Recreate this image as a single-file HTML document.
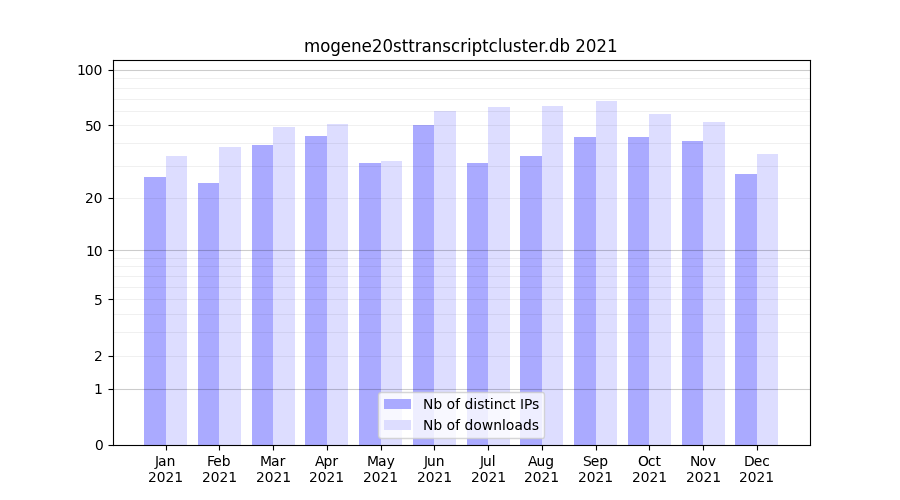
<!DOCTYPE html>
<html lang="en"><head><meta charset="utf-8"><title>mogene20sttranscriptcluster.db 2021</title>
<style>html,body{margin:0;padding:0;background:#fff;overflow:hidden}svg{display:block}text{font-family:"Liberation Sans",sans-serif;fill:#000;fill-opacity:0}</style></head><body>
<svg width="900" height="500" viewBox="0 0 900 500">
<rect width="900" height="500" fill="#fff"/>
<defs><path id="g10_4a" d="M1.375 -10L2.688 -10L2.688 -0.5L2.516 1.078L2 2.156L1.121 2.789L-0.172 3L-0.688 3L-0.688 1.906L-0.266 1.906L0.504 1.777L1 1.391L1.281 0.672L1.375 -0.453L1.375 -10Z"/><path id="g10_61" d="M4.797 -3.859L3.551 -3.777L2.75 -3.531L2.328 -3.102L2.188 -2.438L2.293 -1.879L2.609 -1.453L3.117 -1.184L3.766 -1.094L4.68 -1.266L5.391 -1.781L5.848 -2.582L6 -3.609L6 -3.859L4.797 -3.859ZM7.312 -4.453L7.312 0L6 0L6 -1.375L5.523 -0.762L4.938 -0.328L4.238 -0.082L3.391 0L2.352 -0.16L1.547 -0.641L1.043 -1.406L0.875 -2.391L1.086 -3.512L1.719 -4.312L2.785 -4.793L4.266 -4.953L6 -4.953L6 -5.094L5.859 -5.855L5.438 -6.422L4.773 -6.785L3.875 -6.906L2.625 -6.75L1.469 -6.281L1.469 -7.453L2.781 -7.859L4.047 -8L5.48 -7.777L6.5 -7.109L7.109 -6.008L7.312 -4.453Z"/><path id="g10_6e" d="M7.625 -4.719L7.625 0L6.312 0L6.312 -4.688L6.211 -5.668L5.906 -6.359L5.395 -6.77L4.672 -6.906L3.801 -6.742L3.125 -6.25L2.703 -5.465L2.562 -4.422L2.562 0L1.25 0L1.25 -8L2.562 -8L2.562 -6.625L3.051 -7.227L3.609 -7.656L4.262 -7.914L5 -8L6.137 -7.789L6.953 -7.156L7.457 -6.133L7.625 -4.719Z"/><path id="g10_32" d="M2.656 -1.094L7.375 -1.094L7.375 0L1 0L1 -1.094L1.922 -2.012L3.125 -3.203L4.219 -4.305L4.812 -4.922L5.379 -5.586L5.734 -6.141L5.934 -6.645L6 -7.125L5.859 -7.836L5.438 -8.406L4.785 -8.781L3.953 -8.906L2.594 -8.688L1.062 -8.031L1.062 -9.359L2.594 -9.844L3.906 -10L5.309 -9.809L6.391 -9.234L7.082 -8.34L7.312 -7.188L7.078 -6.031L6.762 -5.441L6.25 -4.766L5.895 -4.395L5.172 -3.656L4.098 -2.555L2.656 -1.094Z"/><path id="g10_30" d="M4.344 -8.906L3.398 -8.66L2.719 -7.922L2.32 -6.707L2.188 -5L2.32 -3.289L2.719 -2.062L3.398 -1.336L4.344 -1.094L5.285 -1.336L5.953 -2.062L6.363 -3.289L6.5 -5L6.363 -6.707L5.953 -7.922L5.285 -8.66L4.344 -8.906ZM4.344 -10L5.138 -9.92L5.832 -9.68L6.427 -9.279L6.922 -8.719L7.312 -8.006L7.59 -7.148L7.757 -6.146L7.812 -5L7.757 -3.854L7.59 -2.852L7.312 -1.994L6.922 -1.281L6.427 -0.721L5.832 -0.32L5.138 -0.08L4.344 0L3.55 -0.08L2.855 -0.32L2.261 -0.721L1.766 -1.281L1.376 -1.994L1.098 -2.852L0.931 -3.854L0.875 -5L0.931 -6.146L1.098 -7.148L1.376 -8.006L1.766 -8.719L2.261 -9.279L2.855 -9.68L3.55 -9.92L4.344 -10Z"/><path id="g10_31" d="M1.75 -1.188L4 -1.188L4 -8.781L1.562 -8.297L1.562 -9.516L3.984 -10L5.312 -10L5.312 -1.188L7.625 -1.188L7.625 0L1.75 0L1.75 -1.188Z"/><path id="g10_46" d="M1.375 -10L7.141 -10L7.141 -8.906L2.688 -8.906L2.688 -5.953L6.703 -5.953L6.703 -4.859L2.688 -4.859L2.688 0L1.375 0L1.375 -10Z"/><path id="g10_65" d="M7.812 -4.453L7.812 -3.859L2.062 -3.859L2.238 -2.664L2.766 -1.797L3.609 -1.27L4.734 -1.094L6.141 -1.281L7.516 -1.828L7.516 -0.609L6.125 -0.156L4.703 0L3.837 -0.066L3.066 -0.266L2.392 -0.598L1.812 -1.062L1.348 -1.641L1.016 -2.312L0.816 -3.078L0.75 -3.938L1 -5.617L1.75 -6.906L2.302 -7.385L2.941 -7.727L3.669 -7.932L4.484 -8L5.867 -7.762L6.922 -7.047L7.59 -5.922L7.812 -4.453ZM6.5 -4.953L6.359 -5.754L5.938 -6.375L5.285 -6.773L4.453 -6.906L3.52 -6.777L2.781 -6.391L2.289 -5.781L2.062 -4.953L6.5 -4.953Z"/><path id="g10_62" d="M6.75 -4L6.609 -5.211L6.188 -6.125L5.531 -6.711L4.656 -6.906L3.789 -6.711L3.125 -6.125L2.703 -5.211L2.562 -4L2.703 -2.785L3.125 -1.859L3.789 -1.285L4.656 -1.094L5.531 -1.285L6.188 -1.859L6.609 -2.785L6.75 -4ZM2.562 -6.625L3.004 -7.234L3.547 -7.656L4.199 -7.914L4.969 -8L5.624 -7.931L6.215 -7.723L6.741 -7.376L7.203 -6.891L7.848 -5.621L8.062 -4L7.848 -2.375L7.203 -1.094L6.741 -0.615L6.215 -0.273L5.624 -0.068L4.969 0L4.199 -0.082L3.547 -0.328L3.004 -0.762L2.562 -1.375L2.562 0L1.25 0L1.25 -11L2.562 -11L2.562 -6.625Z"/><path id="g10_4d" d="M1.375 -10L3.406 -10L6 -3.188L8.609 -10L10.625 -10L10.625 0L9.312 0L9.312 -8.781L6.688 -1.922L5.312 -1.922L2.688 -8.781L2.688 0L1.375 0L1.375 -10Z"/><path id="g10_72" d="M5.75 -6.656L5.297 -6.844L4.75 -6.906L3.82 -6.727L3.125 -6.188L2.703 -5.316L2.562 -4.141L2.562 0L1.25 0L1.25 -8L2.562 -8L2.562 -6.641L3.012 -7.238L3.578 -7.656L4.285 -7.914L5.125 -8L5.406 -8.016L5.75 -8.109L5.75 -6.656Z"/><path id="g10_41" d="M4.75 -9.156L2.891 -3.984L6.609 -3.984L4.75 -9.156ZM3.969 -10L5.516 -10L9.375 0L7.953 0L7.031 -2.828L2.469 -2.828L1.547 0L0.109 0L3.969 -10Z"/><path id="g10_70" d="M2.562 -1.375L2.562 3L1.25 3L1.25 -8L2.562 -8L2.562 -6.625L3.004 -7.234L3.547 -7.656L4.199 -7.914L4.969 -8L5.624 -7.931L6.215 -7.723L6.741 -7.376L7.203 -6.891L7.848 -5.621L8.062 -4L7.848 -2.375L7.203 -1.094L6.741 -0.615L6.215 -0.273L5.624 -0.068L4.969 0L4.199 -0.082L3.547 -0.328L3.004 -0.762L2.562 -1.375ZM6.75 -4L6.609 -5.211L6.188 -6.125L5.531 -6.711L4.656 -6.906L3.789 -6.711L3.125 -6.125L2.703 -5.211L2.562 -4L2.703 -2.785L3.125 -1.859L3.789 -1.285L4.656 -1.094L5.531 -1.285L6.188 -1.859L6.609 -2.785L6.75 -4Z"/><path id="g10_79" d="M4.5 0.703L4.236 1.358L3.977 1.887L3.721 2.288L3.469 2.562L2.883 2.891L2.125 3L1.125 3L1.125 1.922L1.859 1.922L2.316 1.855L2.656 1.656L2.953 1.23L3.281 0.453L3.516 -0.141L0.438 -8L1.766 -8L4.141 -1.75L6.5 -8L7.828 -8L4.5 0.703Z"/><path id="g10_75" d="M1.125 -3.281L1.125 -8L2.438 -8L2.438 -3.312L2.539 -2.34L2.844 -1.641L3.352 -1.23L4.062 -1.094L4.941 -1.258L5.609 -1.75L6.043 -2.539L6.188 -3.562L6.188 -8L7.5 -8L7.5 0L6.188 0L6.188 -1.375L5.699 -0.762L5.141 -0.328L4.5 -0.082L3.766 0L2.625 -0.207L1.797 -0.828L1.293 -1.863L1.125 -3.281ZM4.312 -8L4.312 -8Z"/><path id="g10_6c" d="M1.25 -11L2.562 -11L2.562 0L1.25 0L1.25 -11Z"/><path id="g10_67" d="M6.25 -4L6.113 -5.23L5.703 -6.141L5.043 -6.715L4.156 -6.906L3.277 -6.715L2.609 -6.141L2.199 -5.23L2.062 -4L2.199 -2.766L2.609 -1.844L3.277 -1.281L4.156 -1.094L5.043 -1.281L5.703 -1.844L6.113 -2.766L6.25 -4ZM7.562 -1.016L7.509 -0.065L7.348 0.754L7.079 1.442L6.703 2L5.613 2.75L4.062 3L2.812 2.891L1.688 2.578L1.688 1.312L2.75 1.766L3.828 1.906L4.891 1.742L5.641 1.25L6.098 0.422L6.25 -0.75L6.25 -1.391L5.809 -0.785L5.266 -0.344L4.609 -0.086L3.828 0L3.173 -0.068L2.582 -0.273L2.056 -0.615L1.594 -1.094L0.961 -2.367L0.75 -4L0.961 -5.633L1.594 -6.906L2.056 -7.385L2.582 -7.727L3.173 -7.932L3.828 -8L4.609 -7.914L5.266 -7.656L5.809 -7.223L6.25 -6.609L6.25 -8L7.562 -8L7.562 -1.016Z"/><path id="g10_53" d="M7.422 -9.5L7.422 -8.203L5.922 -8.734L4.562 -8.906L3.551 -8.801L2.797 -8.484L2.34 -7.992L2.188 -7.328L2.289 -6.766L2.594 -6.359L3.184 -6.066L4.141 -5.844L4.984 -5.672L6.328 -5.297L7.266 -4.703L7.816 -3.887L8 -2.844L7.754 -1.609L7.016 -0.719L5.801 -0.18L4.125 0L2.594 -0.156L0.922 -0.641L0.922 -1.984L2.562 -1.312L4.156 -1.094L5.207 -1.203L5.984 -1.531L6.465 -2.062L6.625 -2.781L6.508 -3.41L6.156 -3.891L5.555 -4.242L4.656 -4.484L3.812 -4.641L2.477 -5.008L1.562 -5.547L1.047 -6.289L0.875 -7.266L1.113 -8.406L1.828 -9.266L2.957 -9.816L4.438 -10L5.891 -9.875L7.422 -9.5Z"/><path id="g10_4f" d="M5.438 -8.906L4.747 -8.841L4.129 -8.645L3.583 -8.317L3.109 -7.859L2.465 -6.621L2.25 -5L2.465 -3.387L3.109 -2.141L3.583 -1.683L4.129 -1.355L4.747 -1.159L5.438 -1.094L6.134 -1.159L6.754 -1.355L7.298 -1.683L7.766 -2.141L8.41 -3.387L8.625 -5L8.41 -6.621L7.766 -7.859L7.298 -8.317L6.754 -8.645L6.134 -8.841L5.438 -8.906ZM5.438 -10L6.453 -9.915L7.359 -9.66L8.156 -9.235L8.844 -8.641L9.404 -7.903L9.805 -7.051L10.045 -6.083L10.125 -5L10.045 -3.917L9.805 -2.949L9.404 -2.097L8.844 -1.359L8.156 -0.765L7.359 -0.34L6.453 -0.085L5.438 0L4.428 -0.084L3.523 -0.336L2.725 -0.756L2.031 -1.344L1.471 -2.082L1.07 -2.938L0.83 -3.91L0.75 -5L0.83 -6.083L1.07 -7.051L1.471 -7.903L2.031 -8.641L2.725 -9.235L3.523 -9.66L4.428 -9.915L5.438 -10Z"/><path id="g10_63" d="M6.75 -7.516L6.75 -6.328L5.688 -6.75L4.625 -6.906L3.543 -6.715L2.734 -6.141L2.23 -5.223L2.062 -4L2.23 -2.777L2.734 -1.859L3.543 -1.285L4.625 -1.094L5.688 -1.234L6.75 -1.672L6.75 -0.5L5.672 -0.125L4.484 0L3.669 -0.067L2.941 -0.27L2.302 -0.606L1.75 -1.078L1 -2.348L0.75 -4L0.813 -4.88L1.004 -5.66L1.321 -6.341L1.766 -6.922L2.327 -7.394L2.98 -7.73L3.726 -7.933L4.562 -8L5.688 -7.875L6.75 -7.516Z"/><path id="g10_74" d="M2.562 -10L2.562 -8L5.125 -8L5.125 -6.906L2.562 -6.906L2.562 -2.609L2.625 -1.812L2.812 -1.359L3.203 -1.148L3.844 -1.078L5.125 -1.078L5.125 0L3.828 0L2.586 -0.141L1.797 -0.562L1.387 -1.355L1.25 -2.609L1.25 -6.906L0.375 -6.906L0.375 -8L1.25 -8L1.25 -10L2.562 -10Z"/><path id="g10_4e" d="M1.375 -10L3.203 -10L7.688 -1.641L7.688 -10L9 -10L9 0L7.172 0L2.688 -8.359L2.688 0L1.375 0L1.375 -10Z"/><path id="g10_6f" d="M4.219 -6.906L3.332 -6.711L2.641 -6.125L2.207 -5.203L2.062 -4L2.207 -2.797L2.641 -1.875L3.324 -1.289L4.219 -1.094L5.113 -1.289L5.797 -1.875L6.23 -2.797L6.375 -4L6.23 -5.203L5.797 -6.125L5.113 -6.711L4.219 -6.906ZM4.219 -8L4.987 -7.934L5.668 -7.734L6.261 -7.402L6.766 -6.938L7.457 -5.672L7.688 -4L7.457 -2.336L6.766 -1.062L6.261 -0.598L5.668 -0.266L4.987 -0.066L4.219 0L3.45 -0.066L2.77 -0.266L2.177 -0.598L1.672 -1.062L0.98 -2.336L0.75 -4L0.98 -5.672L1.672 -6.938L2.177 -7.402L2.77 -7.734L3.45 -7.934L4.219 -8Z"/><path id="g10_76" d="M0.422 -8L1.734 -8L4.109 -1.281L6.484 -8L7.797 -8L4.953 0L3.266 0L0.422 -8Z"/><path id="g10_44" d="M2.688 -8.906L2.688 -1.094L4.344 -1.094L5.32 -1.152L6.156 -1.328L6.852 -1.621L7.406 -2.031L7.83 -2.575L8.133 -3.254L8.314 -4.067L8.375 -5.016L8.314 -5.956L8.133 -6.762L7.83 -7.433L7.406 -7.969L6.852 -8.379L6.156 -8.672L5.32 -8.848L4.344 -8.906L2.688 -8.906ZM1.375 -10L4.188 -10L5.559 -9.924L6.734 -9.695L7.715 -9.314L8.5 -8.781L9.102 -8.095L9.531 -7.238L9.789 -6.212L9.875 -5.016L9.788 -3.812L9.527 -2.777L9.093 -1.913L8.484 -1.219L7.7 -0.686L6.723 -0.305L5.552 -0.076L4.188 0L1.375 0L1.375 -10Z"/><path id="g10_35" d="M1.5 -10L6.844 -10L6.844 -8.906L2.812 -8.906L2.812 -6.766L3.391 -6.906L3.984 -6.953L5.465 -6.719L6.594 -6.016L7.32 -4.914L7.562 -3.484L7.499 -2.702L7.309 -2.012L6.991 -1.413L6.547 -0.906L5.336 -0.227L3.703 0L2.422 -0.094L1.062 -0.406L1.062 -1.781L2.328 -1.25L3.703 -1.094L4.754 -1.254L5.562 -1.734L6.078 -2.488L6.25 -3.469L6.078 -4.449L5.562 -5.203L4.762 -5.695L3.703 -5.859L2.609 -5.719L1.5 -5.344L1.5 -10Z"/><path id="g12_6d" d="M8.703 -7.891L9.309 -8.828L10.031 -9.484L10.883 -9.871L11.875 -10L12.538 -9.934L13.121 -9.734L13.624 -9.402L14.047 -8.938L14.633 -7.645L14.828 -5.891L14.828 0L13.25 0L13.25 -5.859L13.137 -7.094L12.797 -7.953L12.223 -8.469L11.406 -8.641L10.387 -8.434L9.609 -7.812L9.117 -6.828L8.953 -5.531L8.953 0L7.375 0L7.375 -5.859L7.262 -7.094L6.922 -7.953L6.344 -8.469L5.516 -8.641L4.508 -8.43L3.734 -7.797L3.242 -6.816L3.078 -5.531L3.078 0L1.5 0L1.5 -10L3.078 -10L3.078 -8.281L3.641 -9.051L4.297 -9.578L5.078 -9.895L5.984 -10L6.906 -9.863L7.672 -9.453L8.273 -8.797L8.703 -7.891Z"/><path id="g12_6f" d="M5.047 -8.641L3.969 -8.395L3.141 -7.656L2.625 -6.508L2.453 -5L2.625 -3.488L3.141 -2.328L3.961 -1.602L5.047 -1.359L6.109 -1.602L6.922 -2.328L7.449 -3.488L7.625 -5L7.449 -6.5L6.922 -7.656L6.109 -8.395L5.047 -8.641ZM5.031 -10L5.955 -9.917L6.773 -9.668L7.486 -9.253L8.094 -8.672L8.579 -7.944L8.926 -7.09L9.134 -6.108L9.203 -5L9.134 -3.897L8.926 -2.918L8.579 -2.062L8.094 -1.328L7.486 -0.747L6.773 -0.332L5.955 -0.083L5.031 0L4.107 -0.083L3.289 -0.332L2.576 -0.747L1.969 -1.328L1.49 -2.062L1.148 -2.918L0.943 -3.897L0.875 -5L0.943 -6.108L1.148 -7.09L1.49 -7.944L1.969 -8.672L2.576 -9.253L3.289 -9.668L4.107 -9.917L5.031 -10Z"/><path id="g12_67" d="M7.5 -5L7.332 -6.547L6.828 -7.688L6.035 -8.402L4.969 -8.641L3.91 -8.402L3.109 -7.688L2.617 -6.547L2.453 -5L2.617 -3.461L3.109 -2.312L3.91 -1.598L4.969 -1.359L6.035 -1.598L6.828 -2.312L7.332 -3.461L7.5 -5ZM9 -1.125L8.936 0.089L8.742 1.137L8.42 2.019L7.969 2.734L7.392 3.288L6.676 3.684L5.821 3.921L4.828 4L3.344 3.875L2 3.469L2 1.812L3.281 2.438L4.594 2.641L5.863 2.418L6.766 1.75L7.316 0.652L7.5 -0.891L7.5 -1.734L6.969 -0.98L6.312 -0.438L5.523 -0.109L4.594 0L3.798 -0.085L3.082 -0.34L2.446 -0.765L1.891 -1.359L1.446 -2.103L1.129 -2.957L0.938 -3.923L0.875 -5L0.938 -6.076L1.129 -7.039L1.446 -7.889L1.891 -8.625L2.446 -9.227L3.082 -9.656L3.798 -9.914L4.594 -10L5.523 -9.895L6.312 -9.578L6.969 -9.039L7.5 -8.266L7.5 -10L9 -10L9 -1.125Z"/><path id="g12_65" d="M9.328 -5.484L9.328 -4.734L2.453 -4.734L2.664 -3.277L3.297 -2.219L4.305 -1.574L5.641 -1.359L7.328 -1.578L8.953 -2.266L8.953 -0.75L7.312 -0.188L5.594 0L4.563 -0.083L3.645 -0.332L2.837 -0.747L2.141 -1.328L1.587 -2.051L1.191 -2.891L0.954 -3.848L0.875 -4.922L0.95 -6.026L1.176 -7.012L1.552 -7.878L2.078 -8.625L2.739 -9.227L3.504 -9.656L4.372 -9.914L5.344 -10L6.217 -9.924L6.992 -9.695L7.67 -9.314L8.25 -8.781L8.722 -8.124L9.059 -7.355L9.261 -6.476L9.328 -5.484ZM7.75 -6.078L7.582 -7.129L7.078 -7.938L6.301 -8.465L5.312 -8.641L4.188 -8.473L3.312 -7.969L2.723 -7.16L2.453 -6.078L7.75 -6.078Z"/><path id="g12_6e" d="M9.125 -5.891L9.125 0L7.625 0L7.625 -5.859L7.5 -7.086L7.125 -7.953L6.512 -8.469L5.641 -8.641L4.578 -8.434L3.766 -7.812L3.25 -6.828L3.078 -5.531L3.078 0L1.5 0L1.5 -10L3.078 -10L3.078 -8.281L3.656 -9.043L4.328 -9.578L5.102 -9.895L5.984 -10L6.711 -9.935L7.344 -9.738L7.883 -9.411L8.328 -8.953L8.926 -7.672L9.125 -5.891Z"/><path id="g12_32" d="M3.234 -1.359L9 -1.359L9 0L1.25 0L1.25 -1.359L2.355 -2.57L3.797 -4.141L4.533 -4.938L5.117 -5.582L5.549 -6.071L5.828 -6.406L6.504 -7.262L6.938 -7.984L7.172 -8.648L7.25 -9.297L7.078 -10.234L6.562 -10.984L5.785 -11.477L4.797 -11.641L4.008 -11.566L3.172 -11.344L2.281 -10.988L1.328 -10.484L1.328 -12.203L3.172 -12.797L4.734 -13L6.418 -12.75L7.719 -12L8.204 -11.458L8.551 -10.832L8.759 -10.122L8.828 -9.328L8.758 -8.543L8.547 -7.812L8.156 -7.043L7.547 -6.141L7.125 -5.652L6.266 -4.688L4.969 -3.262L3.234 -1.359Z"/><path id="g12_30" d="M5.281 -11.641L4.68 -11.561L4.156 -11.32L3.711 -10.92L3.344 -10.359L3.063 -9.638L2.863 -8.754L2.743 -7.708L2.703 -6.5L2.743 -5.298L2.863 -4.254L3.063 -3.368L3.344 -2.641L3.711 -2.08L4.156 -1.68L4.68 -1.439L5.281 -1.359L5.889 -1.439L6.414 -1.68L6.857 -2.08L7.219 -2.641L7.506 -3.368L7.711 -4.254L7.834 -5.298L7.875 -6.5L7.834 -7.708L7.711 -8.754L7.506 -9.638L7.219 -10.359L6.857 -10.92L6.414 -11.32L5.889 -11.561L5.281 -11.641ZM5.281 -13L6.236 -12.896L7.07 -12.582L7.783 -12.06L8.375 -11.328L8.847 -10.399L9.184 -9.285L9.386 -7.985L9.453 -6.5L9.386 -5.008L9.184 -3.703L8.847 -2.586L8.375 -1.656L7.783 -0.932L7.07 -0.414L6.236 -0.104L5.281 0L4.332 -0.104L3.5 -0.414L2.785 -0.932L2.188 -1.656L1.723 -2.586L1.391 -3.703L1.191 -5.008L1.125 -6.5L1.191 -7.985L1.391 -9.285L1.723 -10.399L2.188 -11.328L2.785 -12.06L3.5 -12.582L4.332 -12.896L5.281 -13Z"/><path id="g12_73" d="M7.375 -9.469L7.375 -7.969L6.078 -8.469L4.688 -8.641L3.73 -8.551L3.047 -8.281L2.637 -7.84L2.5 -7.234L2.598 -6.746L2.891 -6.375L3.48 -6.074L4.469 -5.797L4.984 -5.672L6.32 -5.238L7.203 -4.656L7.707 -3.887L7.875 -2.859L7.625 -1.672L6.875 -0.766L5.688 -0.191L4.125 0L2.594 -0.141L0.938 -0.625L0.938 -2.25L2.547 -1.578L4.125 -1.359L5.051 -1.453L5.734 -1.734L6.156 -2.188L6.297 -2.797L6.195 -3.359L5.891 -3.766L5.242 -4.102L4.109 -4.422L3.594 -4.547L2.41 -4.93L1.609 -5.484L1.152 -6.234L1 -7.203L1.227 -8.391L1.906 -9.266L3.004 -9.816L4.484 -10L6.031 -9.875L7.375 -9.469Z"/><path id="g12_74" d="M3.125 -12.5L3.125 -10L6.125 -10L6.125 -8.641L3.125 -8.641L3.125 -3.25L3.199 -2.258L3.422 -1.688L3.871 -1.43L4.625 -1.344L6.125 -1.344L6.125 0L4.594 0L3.794 -0.044L3.129 -0.176L2.599 -0.396L2.203 -0.703L1.916 -1.127L1.711 -1.695L1.588 -2.408L1.547 -3.266L1.547 -8.641L0.5 -8.641L0.5 -10L1.547 -10L1.547 -12.5L3.125 -12.5Z"/><path id="g12_72" d="M6.812 -8.328L6.266 -8.562L5.641 -8.641L4.547 -8.414L3.734 -7.734L3.242 -6.648L3.078 -5.172L3.078 0L1.5 0L1.5 -10L3.078 -10L3.078 -8.312L3.602 -9.059L4.266 -9.578L5.094 -9.895L6.078 -10L6.406 -10.031L6.812 -10.156L6.812 -8.328Z"/><path id="g12_61" d="M5.656 -4.734L4.834 -4.71L4.148 -4.637L3.6 -4.515L3.188 -4.344L2.672 -3.812L2.5 -3L2.629 -2.324L3.016 -1.797L3.625 -1.469L4.422 -1.359L5.52 -1.566L6.375 -2.188L6.938 -3.168L7.125 -4.422L7.125 -4.734L5.656 -4.734ZM8.625 -5.578L8.625 0L7.125 0L7.125 -1.703L6.559 -0.941L5.859 -0.406L5.023 -0.102L4.016 0L2.777 -0.199L1.812 -0.797L1.203 -1.727L1 -2.922L1.063 -3.661L1.254 -4.301L1.571 -4.841L2.016 -5.281L3.281 -5.879L5.047 -6.078L7.125 -6.078L7.125 -6.234L6.957 -7.258L6.453 -8.016L5.648 -8.484L4.578 -8.641L3.062 -8.438L1.672 -7.812L1.672 -9.328L3.25 -9.828L4.734 -10L5.649 -9.932L6.441 -9.727L7.11 -9.385L7.656 -8.906L8.08 -8.288L8.383 -7.527L8.564 -6.624L8.625 -5.578Z"/><path id="g12_63" d="M8.062 -9.391L8.062 -7.922L6.797 -8.453L5.516 -8.641L4.223 -8.402L3.25 -7.688L2.652 -6.539L2.453 -5L2.652 -3.469L3.25 -2.312L4.223 -1.598L5.516 -1.359L6.797 -1.531L8.062 -2.078L8.062 -0.625L6.766 -0.156L5.344 0L4.372 -0.084L3.504 -0.336L2.739 -0.756L2.078 -1.344L1.552 -2.082L1.176 -2.938L0.95 -3.91L0.875 -5L0.951 -6.102L1.18 -7.078L1.561 -7.93L2.094 -8.656L2.76 -9.244L3.539 -9.664L4.432 -9.916L5.438 -10L6.797 -9.844L8.062 -9.391Z"/><path id="g12_69" d="M1.625 -10L3.125 -10L3.125 0L1.625 0L1.625 -10ZM1.625 -14L3.125 -14L3.125 -11.969L1.625 -11.969L1.625 -14Z"/><path id="g12_70" d="M3.078 -1.719L3.078 4L1.5 4L1.5 -10L3.078 -10L3.078 -8.281L3.605 -9.043L4.25 -9.578L5.027 -9.895L5.953 -10L6.728 -9.913L7.426 -9.652L8.048 -9.218L8.594 -8.609L9.045 -7.868L9.367 -7.02L9.561 -6.063L9.625 -5L9.561 -3.936L9.367 -2.977L9.045 -2.123L8.594 -1.375L8.048 -0.773L7.426 -0.344L6.728 -0.086L5.953 0L5.027 -0.105L4.25 -0.422L3.605 -0.957L3.078 -1.719ZM8.047 -5L7.879 -6.52L7.375 -7.672L6.594 -8.398L5.562 -8.641L4.527 -8.398L3.734 -7.672L3.242 -6.52L3.078 -5L3.242 -3.48L3.734 -2.328L4.527 -1.602L5.562 -1.359L6.594 -1.602L7.375 -2.328L7.879 -3.48L8.047 -5Z"/><path id="g12_6c" d="M1.625 -14L3.125 -14L3.125 0L1.625 0L1.625 -14Z"/><path id="g12_75" d="M1.375 -4.109L1.375 -10L2.875 -10L2.875 -4.141L3 -2.922L3.375 -2.047L4.004 -1.531L4.891 -1.359L5.969 -1.566L6.797 -2.188L7.324 -3.168L7.5 -4.453L7.5 -10L9 -10L9 0L7.5 0L7.5 -1.719L6.91 -0.957L6.234 -0.422L5.457 -0.105L4.562 0L3.828 -0.065L3.188 -0.262L2.641 -0.589L2.188 -1.047L1.578 -2.336L1.375 -4.109ZM5.172 -10L5.172 -10Z"/><path id="g12_2e" d="M1.75 -2.156L3.5 -2.156L3.5 0L1.75 0L1.75 -2.156Z"/><path id="g12_64" d="M7.5 -8.281L7.5 -14L9 -14L9 0L7.5 0L7.5 -1.719L6.969 -0.957L6.312 -0.422L5.523 -0.105L4.594 0L3.805 -0.086L3.094 -0.344L2.461 -0.773L1.906 -1.375L1.455 -2.123L1.133 -2.977L0.939 -3.936L0.875 -5L0.939 -6.063L1.133 -7.02L1.455 -7.868L1.906 -8.609L2.461 -9.218L3.094 -9.652L3.805 -9.913L4.594 -10L5.523 -9.895L6.312 -9.578L6.969 -9.043L7.5 -8.281ZM2.453 -5L2.621 -3.48L3.125 -2.328L3.922 -1.602L4.969 -1.359L6.016 -1.602L6.812 -2.328L7.328 -3.48L7.5 -5L7.328 -6.52L6.812 -7.672L6.016 -8.398L4.969 -8.641L3.922 -8.398L3.125 -7.672L2.621 -6.52L2.453 -5Z"/><path id="g12_62" d="M8.047 -5L7.879 -6.52L7.375 -7.672L6.594 -8.398L5.562 -8.641L4.527 -8.398L3.734 -7.672L3.242 -6.52L3.078 -5L3.242 -3.48L3.734 -2.328L4.527 -1.602L5.562 -1.359L6.594 -1.602L7.375 -2.328L7.879 -3.48L8.047 -5ZM3.078 -8.281L3.605 -9.043L4.25 -9.578L5.027 -9.895L5.953 -10L6.728 -9.913L7.426 -9.652L8.048 -9.218L8.594 -8.609L9.045 -7.868L9.367 -7.02L9.561 -6.063L9.625 -5L9.561 -3.936L9.367 -2.977L9.045 -2.123L8.594 -1.375L8.048 -0.773L7.426 -0.344L6.728 -0.086L5.953 0L5.027 -0.105L4.25 -0.422L3.605 -0.957L3.078 -1.719L3.078 0L1.5 0L1.5 -14L3.078 -14L3.078 -8.281Z"/><path id="g12_31" d="M2.125 -1.484L4.797 -1.484L4.797 -11.406L1.875 -10.766L1.875 -12.375L4.781 -13L6.375 -13L6.375 -1.484L9.125 -1.484L9.125 0L2.125 0L2.125 -1.484Z"/><path id="g10_66" d="M5.188 -11L5.188 -9.906L4.031 -9.906L3.477 -9.836L3.125 -9.625L2.938 -9.254L2.875 -8.672L2.875 -8L4.875 -8L4.875 -6.906L2.875 -6.906L2.875 0L1.562 0L1.562 -6.906L0.375 -6.906L0.375 -8L1.562 -8L1.562 -8.547L1.707 -9.652L2.141 -10.406L2.906 -10.852L4.016 -11L5.188 -11Z"/><path id="g10_64" d="M6.25 -6.625L6.25 -11L7.562 -11L7.562 0L6.25 0L6.25 -1.375L5.809 -0.762L5.266 -0.328L4.609 -0.082L3.828 0L3.18 -0.068L2.594 -0.273L2.07 -0.615L1.609 -1.094L0.965 -2.375L0.75 -4L0.965 -5.621L1.609 -6.891L2.07 -7.376L2.594 -7.723L3.18 -7.931L3.828 -8L4.609 -7.914L5.266 -7.656L5.809 -7.234L6.25 -6.625ZM2.062 -4L2.199 -2.785L2.609 -1.859L3.277 -1.285L4.156 -1.094L5.023 -1.285L5.688 -1.859L6.109 -2.785L6.25 -4L6.109 -5.211L5.688 -6.125L5.023 -6.711L4.156 -6.906L3.277 -6.711L2.609 -6.125L2.199 -5.211L2.062 -4Z"/><path id="g10_69" d="M1.25 -8L2.562 -8L2.562 0L1.25 0L1.25 -8ZM1.25 -11L2.562 -11L2.562 -9.906L1.25 -9.906L1.25 -11Z"/><path id="g10_73" d="M6.078 -7.578L6.078 -6.375L5 -6.766L3.828 -6.906L3.031 -6.836L2.453 -6.625L2.113 -6.27L2 -5.766L2.082 -5.387L2.328 -5.094L2.824 -4.852L3.656 -4.625L4.078 -4.531L5.199 -4.18L5.938 -3.719L6.359 -3.102L6.5 -2.281L6.289 -1.34L5.656 -0.609L4.668 -0.152L3.359 0L2.078 -0.125L0.703 -0.5L0.703 -1.797L2.047 -1.266L3.375 -1.094L4.148 -1.168L4.719 -1.391L5.07 -1.754L5.188 -2.25L5.102 -2.691L4.844 -3.016L4.301 -3.285L3.359 -3.531L2.922 -3.641L1.938 -3.941L1.266 -4.375L0.879 -4.984L0.75 -5.781L0.938 -6.711L1.5 -7.406L2.422 -7.852L3.656 -8L4.953 -7.891L6.078 -7.578Z"/><path id="g10_49" d="M1.375 -10L2.688 -10L2.688 0L1.375 0L1.375 -10Z"/><path id="g10_50" d="M2.688 -8.906L2.688 -4.953L4.391 -4.953L5.234 -5.082L5.859 -5.469L6.246 -6.09L6.375 -6.922L6.246 -7.766L5.859 -8.391L5.234 -8.777L4.391 -8.906L2.688 -8.906ZM1.375 -10L4.453 -10L5.934 -9.805L7 -9.219L7.656 -8.258L7.875 -6.938L7.656 -5.605L7 -4.641L5.918 -4.055L4.422 -3.859L2.688 -3.859L2.688 0L1.375 0L1.375 -10Z"/><path id="g10_77" d="M0.578 -8L1.828 -8L3.391 -1.75L4.938 -8L6.406 -8L7.969 -1.75L9.516 -8L10.766 -8L8.781 0L7.312 0L5.672 -6.562L4.031 0L2.562 0L0.578 -8Z"/></defs>
<g shape-rendering="crispEdges">
<rect x="144" y="177" width="22" height="268" fill="#aaaaff"/>
<rect x="166" y="156" width="21" height="289" fill="#ddddff"/>
<rect x="198" y="183" width="21" height="262" fill="#aaaaff"/>
<rect x="219" y="147" width="22" height="298" fill="#ddddff"/>
<rect x="252" y="145" width="21" height="300" fill="#aaaaff"/>
<rect x="273" y="127" width="22" height="318" fill="#ddddff"/>
<rect x="305" y="136" width="22" height="309" fill="#aaaaff"/>
<rect x="327" y="124" width="21" height="321" fill="#ddddff"/>
<rect x="359" y="163" width="22" height="282" fill="#aaaaff"/>
<rect x="381" y="161" width="21" height="284" fill="#ddddff"/>
<rect x="413" y="125" width="21" height="320" fill="#aaaaff"/>
<rect x="434" y="111" width="22" height="334" fill="#ddddff"/>
<rect x="467" y="163" width="21" height="282" fill="#aaaaff"/>
<rect x="488" y="107" width="22" height="338" fill="#ddddff"/>
<rect x="520" y="156" width="22" height="289" fill="#aaaaff"/>
<rect x="542" y="106" width="21" height="339" fill="#ddddff"/>
<rect x="574" y="137" width="22" height="308" fill="#aaaaff"/>
<rect x="596" y="101" width="21" height="344" fill="#ddddff"/>
<rect x="628" y="137" width="21" height="308" fill="#aaaaff"/>
<rect x="649" y="114" width="22" height="331" fill="#ddddff"/>
<rect x="682" y="141" width="21" height="304" fill="#aaaaff"/>
<rect x="703" y="122" width="22" height="323" fill="#ddddff"/>
<rect x="735" y="174" width="22" height="271" fill="#aaaaff"/>
<rect x="757" y="154" width="21" height="291" fill="#ddddff"/>
</g>
<g fill="#000">
<rect x="113" y="388.944" width="697.5" height="1.111" fill-opacity="0.2"/>
<rect x="113" y="249.944" width="697.5" height="1.111" fill-opacity="0.2"/>
<rect x="113" y="69.944" width="697.5" height="1.111" fill-opacity="0.2"/>
<rect x="113" y="355.944" width="697.5" height="1.111" fill-opacity="0.06"/>
<rect x="113" y="331.944" width="697.5" height="1.111" fill-opacity="0.06"/>
<rect x="113" y="313.944" width="697.5" height="1.111" fill-opacity="0.06"/>
<rect x="113" y="298.944" width="697.5" height="1.111" fill-opacity="0.06"/>
<rect x="113" y="286.944" width="697.5" height="1.111" fill-opacity="0.06"/>
<rect x="113" y="275.944" width="697.5" height="1.111" fill-opacity="0.06"/>
<rect x="113" y="265.944" width="697.5" height="1.111" fill-opacity="0.06"/>
<rect x="113" y="257.944" width="697.5" height="1.111" fill-opacity="0.06"/>
<rect x="113" y="197.944" width="697.5" height="1.111" fill-opacity="0.06"/>
<rect x="113" y="165.944" width="697.5" height="1.111" fill-opacity="0.06"/>
<rect x="113" y="142.944" width="697.5" height="1.111" fill-opacity="0.06"/>
<rect x="113" y="124.944" width="697.5" height="1.111" fill-opacity="0.06"/>
<rect x="113" y="110.944" width="697.5" height="1.111" fill-opacity="0.06"/>
<rect x="113" y="98.944" width="697.5" height="1.111" fill-opacity="0.06"/>
<rect x="113" y="87.944" width="697.5" height="1.111" fill-opacity="0.06"/>
<rect x="113" y="77.944" width="697.5" height="1.111" fill-opacity="0.06"/>
</g>
<g fill="#000">
<rect x="108.5" y="444.944" width="5" height="1.111"/>
<rect x="108.5" y="388.944" width="5" height="1.111"/>
<rect x="108.5" y="355.944" width="5" height="1.111"/>
<rect x="108.5" y="298.944" width="5" height="1.111"/>
<rect x="108.5" y="249.944" width="5" height="1.111"/>
<rect x="108.5" y="197.944" width="5" height="1.111"/>
<rect x="108.5" y="124.944" width="5" height="1.111"/>
<rect x="108.5" y="69.944" width="5" height="1.111"/>
<rect x="165.944" y="445.5" width="1.111" height="5"/>
<rect x="218.944" y="445.5" width="1.111" height="5"/>
<rect x="272.944" y="445.5" width="1.111" height="5"/>
<rect x="326.944" y="445.5" width="1.111" height="5"/>
<rect x="380.944" y="445.5" width="1.111" height="5"/>
<rect x="433.944" y="445.5" width="1.111" height="5"/>
<rect x="487.944" y="445.5" width="1.111" height="5"/>
<rect x="541.944" y="445.5" width="1.111" height="5"/>
<rect x="595.944" y="445.5" width="1.111" height="5"/>
<rect x="648.944" y="445.5" width="1.111" height="5"/>
<rect x="702.944" y="445.5" width="1.111" height="5"/>
<rect x="756.944" y="445.5" width="1.111" height="5"/>
<rect x="112.944" y="59.944" width="1.111" height="386.111"/>
<rect x="809.944" y="59.944" width="1.111" height="386.111"/>
<rect x="112.944" y="59.944" width="698.111" height="1.111"/>
<rect x="112.944" y="444.944" width="698.111" height="1.111"/>
</g>
<g fill="#000">
<use href="#g10_4a" x="155" y="466"/><use href="#g10_61" x="158" y="466"/><use href="#g10_6e" x="166.625" y="466"/>
<use href="#g10_32" x="148" y="482"/><use href="#g10_30" x="156.75" y="482"/><use href="#g10_32" x="165.5" y="482"/><use href="#g10_31" x="174.25" y="482"/>
<use href="#g10_46" x="207" y="466"/><use href="#g10_65" x="213.25" y="466"/><use href="#g10_62" x="221.75" y="466"/>
<use href="#g10_32" x="202" y="482"/><use href="#g10_30" x="210.75" y="482"/><use href="#g10_32" x="219.5" y="482"/><use href="#g10_31" x="228.25" y="482"/>
<use href="#g10_4d" x="260" y="466"/><use href="#g10_61" x="271" y="466"/><use href="#g10_72" x="279.625" y="466"/>
<use href="#g10_32" x="256" y="482"/><use href="#g10_30" x="264.75" y="482"/><use href="#g10_32" x="273.5" y="482"/><use href="#g10_31" x="282.25" y="482"/>
<use href="#g10_41" x="315" y="466"/><use href="#g10_70" x="323.5" y="466"/><use href="#g10_72" x="332.375" y="466"/>
<use href="#g10_32" x="309" y="482"/><use href="#g10_30" x="317.75" y="482"/><use href="#g10_32" x="326.5" y="482"/><use href="#g10_31" x="335.25" y="482"/>
<use href="#g10_4d" x="367" y="466"/><use href="#g10_61" x="378" y="466"/><use href="#g10_79" x="386.625" y="466"/>
<use href="#g10_32" x="363" y="482"/><use href="#g10_30" x="371.75" y="482"/><use href="#g10_32" x="380.5" y="482"/><use href="#g10_31" x="389.25" y="482"/>
<use href="#g10_4a" x="424" y="466"/><use href="#g10_75" x="427" y="466"/><use href="#g10_6e" x="435.75" y="466"/>
<use href="#g10_32" x="417" y="482"/><use href="#g10_30" x="425.75" y="482"/><use href="#g10_32" x="434.5" y="482"/><use href="#g10_31" x="443.25" y="482"/>
<use href="#g10_4a" x="480" y="466"/><use href="#g10_75" x="483" y="466"/><use href="#g10_6c" x="491.75" y="466"/>
<use href="#g10_32" x="471" y="482"/><use href="#g10_30" x="479.75" y="482"/><use href="#g10_32" x="488.5" y="482"/><use href="#g10_31" x="497.25" y="482"/>
<use href="#g10_41" x="528" y="466"/><use href="#g10_75" x="536.5" y="466"/><use href="#g10_67" x="545.25" y="466"/>
<use href="#g10_32" x="524" y="482"/><use href="#g10_30" x="532.75" y="482"/><use href="#g10_32" x="541.5" y="482"/><use href="#g10_31" x="550.25" y="482"/>
<use href="#g10_53" x="583" y="466"/><use href="#g10_65" x="590.75" y="466"/><use href="#g10_70" x="599.25" y="466"/>
<use href="#g10_32" x="578" y="482"/><use href="#g10_30" x="586.75" y="482"/><use href="#g10_32" x="595.5" y="482"/><use href="#g10_31" x="604.25" y="482"/>
<use href="#g10_4f" x="638" y="466"/><use href="#g10_63" x="647.875" y="466"/><use href="#g10_74" x="655.5" y="466"/>
<use href="#g10_32" x="632" y="482"/><use href="#g10_30" x="640.75" y="482"/><use href="#g10_32" x="649.5" y="482"/><use href="#g10_31" x="658.25" y="482"/>
<use href="#g10_4e" x="690" y="466"/><use href="#g10_6f" x="699.375" y="466"/><use href="#g10_76" x="707.875" y="466"/>
<use href="#g10_32" x="686" y="482"/><use href="#g10_30" x="694.75" y="482"/><use href="#g10_32" x="703.5" y="482"/><use href="#g10_31" x="712.25" y="482"/>
<use href="#g10_44" x="744" y="466"/><use href="#g10_65" x="753.75" y="466"/><use href="#g10_63" x="762.25" y="466"/>
<use href="#g10_32" x="739" y="482"/><use href="#g10_30" x="747.75" y="482"/><use href="#g10_32" x="756.5" y="482"/><use href="#g10_31" x="765.25" y="482"/>
<use href="#g10_30" x="95" y="450"/>
<use href="#g10_31" x="94" y="394"/>
<use href="#g10_32" x="94" y="361"/>
<use href="#g10_35" x="94" y="305"/>
<use href="#g10_31" x="86" y="256"/><use href="#g10_30" x="93.875" y="256"/>
<use href="#g10_32" x="85" y="203"/><use href="#g10_30" x="93.75" y="203"/>
<use href="#g10_35" x="85" y="131"/><use href="#g10_30" x="92.75" y="131"/>
<use href="#g10_31" x="77" y="75"/><use href="#g10_30" x="84.875" y="75"/><use href="#g10_30" x="93.625" y="75"/>
<use href="#g12_6d" x="304" y="52"/><use href="#g12_6f" x="320.25" y="52"/><use href="#g12_67" x="330.375" y="52"/><use href="#g12_65" x="340.875" y="52"/><use href="#g12_6e" x="351.125" y="52"/><use href="#g12_65" x="361.625" y="52"/><use href="#g12_32" x="371.875" y="52"/><use href="#g12_30" x="382.5" y="52"/><use href="#g12_73" x="393" y="52"/><use href="#g12_74" x="401.75" y="52"/><use href="#g12_74" x="408.25" y="52"/><use href="#g12_72" x="414.75" y="52"/><use href="#g12_61" x="421.625" y="52"/><use href="#g12_6e" x="431.75" y="52"/><use href="#g12_73" x="442.25" y="52"/><use href="#g12_63" x="451" y="52"/><use href="#g12_72" x="460.125" y="52"/><use href="#g12_69" x="467" y="52"/><use href="#g12_70" x="471.625" y="52"/><use href="#g12_74" x="482.125" y="52"/><use href="#g12_63" x="488.625" y="52"/><use href="#g12_6c" x="497.75" y="52"/><use href="#g12_75" x="502.375" y="52"/><use href="#g12_73" x="512.875" y="52"/><use href="#g12_74" x="521.625" y="52"/><use href="#g12_65" x="528.125" y="52"/><use href="#g12_72" x="538.375" y="52"/><use href="#g12_2e" x="543.75" y="52"/><use href="#g12_64" x="549" y="52"/><use href="#g12_62" x="559.5" y="52"/><use href="#g12_32" x="575.25" y="52"/><use href="#g12_30" x="585.875" y="52"/><use href="#g12_32" x="596.375" y="52"/><use href="#g12_31" x="607" y="52"/>
</g>
<path d="M381.5 438.5L542.5 438.5Q544.5 438.5 544.5 435.5L544.5 395.5Q544.5 392.5 542.5 392.5L381.5 392.5Q378.5 392.5 378.5 395.5L378.5 435.5Q378.5 438.5 381.5 438.5Z" fill="#fff" fill-opacity="0.8" stroke="#ccc" stroke-opacity="0.8" stroke-width="1.389" stroke-linejoin="miter"/>
<rect x="384" y="399" width="27" height="10" fill="#aaaaff" shape-rendering="crispEdges"/>
<rect x="384" y="420" width="27" height="10" fill="#ddddff" shape-rendering="crispEdges"/>
<g fill="#000"><use href="#g10_4e" x="423" y="409"/><use href="#g10_62" x="433.375" y="409"/><use href="#g10_6f" x="446.625" y="409"/><use href="#g10_66" x="455.125" y="409"/><use href="#g10_64" x="464.5" y="409"/><use href="#g10_69" x="473.375" y="409"/><use href="#g10_73" x="477.25" y="409"/><use href="#g10_74" x="484.375" y="409"/><use href="#g10_69" x="489.875" y="409"/><use href="#g10_6e" x="493.75" y="409"/><use href="#g10_63" x="502.5" y="409"/><use href="#g10_74" x="510.125" y="409"/><use href="#g10_49" x="520" y="409"/><use href="#g10_50" x="524" y="409"/><use href="#g10_73" x="532.125" y="409"/><use href="#g10_4e" x="423" y="430"/><use href="#g10_62" x="433.375" y="430"/><use href="#g10_6f" x="446.625" y="430"/><use href="#g10_66" x="455.125" y="430"/><use href="#g10_64" x="464.5" y="430"/><use href="#g10_6f" x="473.375" y="430"/><use href="#g10_77" x="481.875" y="430"/><use href="#g10_6e" x="493.25" y="430"/><use href="#g10_6c" x="502" y="430"/><use href="#g10_6f" x="505.875" y="430"/><use href="#g10_61" x="514.375" y="430"/><use href="#g10_64" x="523" y="430"/><use href="#g10_73" x="531.875" y="430"/></g>
<g>
<text x="461" y="51.7" font-size="16.7" text-anchor="middle">mogene20sttranscriptcluster.db 2021</text>
<text x="102.8" y="450.5" font-size="13.9" text-anchor="end">0</text>
<text x="102.8" y="394.5" font-size="13.9" text-anchor="end">1</text>
<text x="102.8" y="361.5" font-size="13.9" text-anchor="end">2</text>
<text x="102.8" y="304.5" font-size="13.9" text-anchor="end">5</text>
<text x="102.8" y="255.5" font-size="13.9" text-anchor="end">10</text>
<text x="102.8" y="203.5" font-size="13.9" text-anchor="end">20</text>
<text x="102.8" y="130.5" font-size="13.9" text-anchor="end">50</text>
<text x="102.8" y="75.5" font-size="13.9" text-anchor="end">100</text>
<text x="165.699" y="465.7" font-size="13.9" text-anchor="middle">Jan</text>
<text x="165.699" y="481.9" font-size="13.9" text-anchor="middle">2021</text>
<text x="219.436" y="465.7" font-size="13.9" text-anchor="middle">Feb</text>
<text x="219.436" y="481.9" font-size="13.9" text-anchor="middle">2021</text>
<text x="273.172" y="465.7" font-size="13.9" text-anchor="middle">Mar</text>
<text x="273.172" y="481.9" font-size="13.9" text-anchor="middle">2021</text>
<text x="326.909" y="465.7" font-size="13.9" text-anchor="middle">Apr</text>
<text x="326.909" y="481.9" font-size="13.9" text-anchor="middle">2021</text>
<text x="380.645" y="465.7" font-size="13.9" text-anchor="middle">May</text>
<text x="380.645" y="481.9" font-size="13.9" text-anchor="middle">2021</text>
<text x="434.382" y="465.7" font-size="13.9" text-anchor="middle">Jun</text>
<text x="434.382" y="481.9" font-size="13.9" text-anchor="middle">2021</text>
<text x="488.118" y="465.7" font-size="13.9" text-anchor="middle">Jul</text>
<text x="488.118" y="481.9" font-size="13.9" text-anchor="middle">2021</text>
<text x="541.855" y="465.7" font-size="13.9" text-anchor="middle">Aug</text>
<text x="541.855" y="481.9" font-size="13.9" text-anchor="middle">2021</text>
<text x="595.591" y="465.7" font-size="13.9" text-anchor="middle">Sep</text>
<text x="595.591" y="481.9" font-size="13.9" text-anchor="middle">2021</text>
<text x="649.328" y="465.7" font-size="13.9" text-anchor="middle">Oct</text>
<text x="649.328" y="481.9" font-size="13.9" text-anchor="middle">2021</text>
<text x="703.064" y="465.7" font-size="13.9" text-anchor="middle">Nov</text>
<text x="703.064" y="481.9" font-size="13.9" text-anchor="middle">2021</text>
<text x="756.801" y="465.7" font-size="13.9" text-anchor="middle">Dec</text>
<text x="756.801" y="481.9" font-size="13.9" text-anchor="middle">2021</text>
<text x="422.6" y="408.6" font-size="13.9">Nb of distinct IPs</text>
<text x="422.6" y="429.5" font-size="13.9">Nb of downloads</text>
</g>
</svg>
</body></html>
